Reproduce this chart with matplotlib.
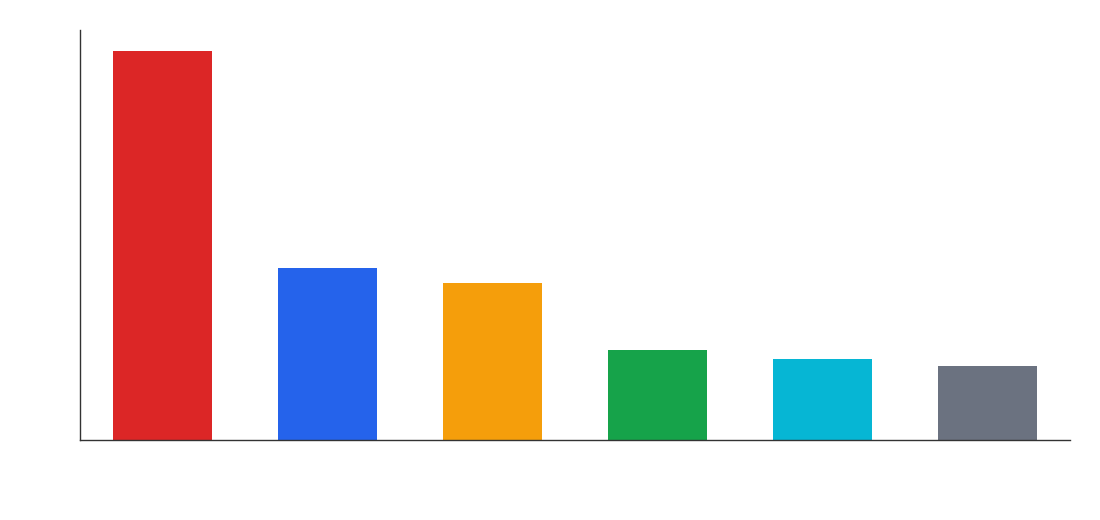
import matplotlib
matplotlib.use("Agg")
import matplotlib.pyplot as plt

# categories carry no visible labels in the reference
categories = ["A", "B", "C", "D", "E", "F"]
values = [47.4, 21.0, 19.1, 11.0, 9.9, 9.0]
colors = ["#dc2626", "#2563eb", "#f59e0b", "#16a34a", "#06b6d4", "#6b7280"]

fig = plt.figure(figsize=(11, 5.2), dpi=100)
ax = fig.add_axes([0.0727, 0.1538, 0.9, 0.7885])

ax.bar(categories, values, width=0.6, color=colors)

ax.set_xlim(-0.5, len(categories) - 0.5)
ax.set_ylim(0, max(values) * 1.054)

for side in ["top", "right"]:
    ax.spines[side].set_visible(False)
for side in ["left", "bottom"]:
    ax.spines[side].set_color("#333333")
    ax.spines[side].set_linewidth(1.0)

ax.tick_params(left=False, bottom=False, labelleft=False, labelbottom=False)

fig.savefig("out.png", dpi=100, facecolor="white")
